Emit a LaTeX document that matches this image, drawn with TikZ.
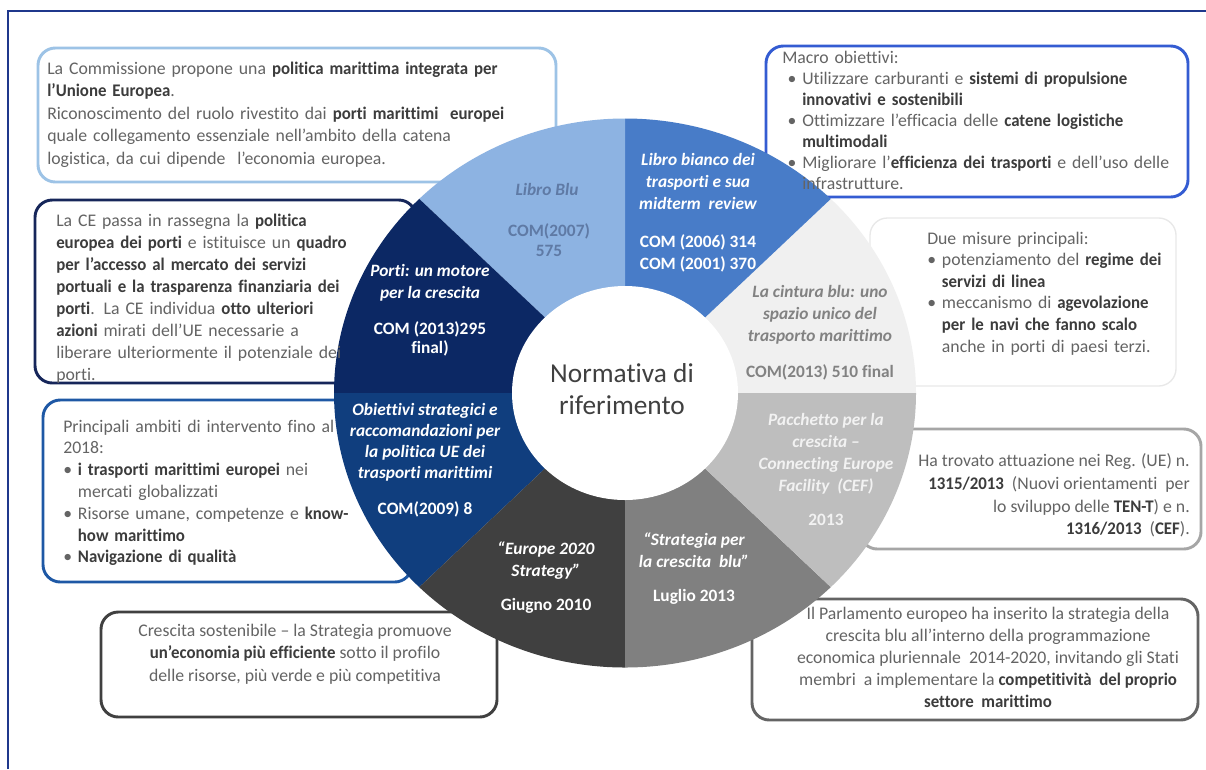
\documentclass[tikz,border=0pt]{standalone}
\usepackage{fontspec}
\setmainfont{Carlito}[Ligatures={TeX,NoCommon}]
\newfontfamily\bnarrow{Carlito}[Ligatures={TeX,NoCommon}, FakeStretch=0.95]
\definecolor{frameblue}{RGB}{31,56,140}
\definecolor{bA}{RGB}{157,195,230}
\definecolor{bB}{RGB}{52,92,210}
\definecolor{bC}{RGB}{22,38,90}
\definecolor{bD}{RGB}{30,88,165}
\definecolor{bE}{RGB}{64,64,64}
\definecolor{bF}{RGB}{100,100,100}
\definecolor{bG}{RGB}{166,166,166}
\definecolor{bH}{RGB}{232,232,232}
\definecolor{sLB}{RGB}{141,179,226}
\definecolor{sBi}{RGB}{72,124,200}
\definecolor{sCi}{RGB}{240,240,240}
\definecolor{sPa}{RGB}{190,190,190}
\definecolor{sSt}{RGB}{128,128,128}
\definecolor{sEu}{RGB}{64,64,64}
\definecolor{sOb}{RGB}{16,62,126}
\definecolor{sPo}{RGB}{12,40,100}
\definecolor{txt}{RGB}{100,100,100}
\definecolor{txtb}{RGB}{60,60,60}
\definecolor{tLB}{RGB}{95,122,165}
\definecolor{tCi}{RGB}{130,130,130}
\definecolor{tPa}{RGB}{242,242,242}
\definecolor{tNo}{RGB}{64,64,64}
\newcommand{\B}[1]{{\bnarrow\bfseries\color{txtb}#1}}
\newcommand{\itm}[2][15pt]{\par\hangindent=#1\hangafter=1\noindent\hbox to #1{\hspace{\dimexpr#1-11pt\relax}\textbullet\hfil}#2\par}
\def\RX{218.25pt}
\def\RY{205.875pt}
\tikzset{
  boxframe/.style={line width=2.2pt, rounded corners=13pt, fill=white},
  boxtext/.style={inner sep=0pt, text=txt, font=\fontsize{13.3}{16.5}\selectfont, text width=430pt, align=left, anchor=north west},
  boxctext/.style={inner sep=0pt, text=txt, font=\fontsize{13.3}{16.5}\selectfont, align=center, anchor=north},
  boxrtext/.style={inner sep=0pt, text=txt, font=\fontsize{13.3}{17}\selectfont, align=right, anchor=north east},
  sectitle/.style={inner sep=0pt, align=center, anchor=north, font=\fontsize{13}{16.5}\selectfont\bfseries\itshape, text=white},
  seccode/.style={inner sep=0pt, align=center, anchor=north, font=\fontsize{13}{16.5}\selectfont\bfseries, text=white},
}
\newcommand{\sector}[3]{\fill[#1] (C) -- ++(#2:\RX\space and \RY) arc[start angle=#2, end angle=#3, x radius=\RX, y radius=\RY] -- cycle;}
\begin{document}
\begin{tikzpicture}[x=0.75pt,y=-0.75pt]
\useasboundingbox (0,0) rectangle (1206,769);
\fill[white] (0,0) rectangle (1206,769);
\coordinate (C) at (625,393);
\coordinate (F1) at (8,769);
\coordinate (F2) at (8,11);
\coordinate (F3) at (1206,11);
\draw[frameblue, line width=1.6pt] (F1) -- (F2) -- (F3);

% boxes
\draw[boxframe, draw=bA] (38,48) rectangle (556,182);
\draw[boxframe, draw=bB] (766,46) rectangle (1188,197);
\draw[boxframe, draw=bH, line width=1pt] (870,218) rectangle (1176,386);
\draw[boxframe, draw=bC] (35,200) rectangle (416,383);
\draw[boxframe, draw=bD] (43,400) rectangle (412,582);
\draw[boxframe, draw=bG] (860,429) rectangle (1201,549);
\draw[boxframe, draw=bE] (101,612) rectangle (497,717);
\draw[boxframe, draw=bF] (752,599) rectangle (1198,720);

% ring
\sector{sCi}{0}{45}
\sector{sBi}{45}{90}
\sector{sLB}{90}{135}
\sector{sPo}{135}{180}
\sector{sOb}{180}{225}
\sector{sEu}{225}{270}
\sector{sSt}{270}{315}
\sector{sPa}{315}{360}
\fill[white] (C) ellipse[x radius=84.75pt, y radius=80.25pt];

% centre
\node[inner sep=0pt, align=center, anchor=north, text=tNo, font=\fontsize{20.5}{24}\selectfont] (centre) at (622,363) {Normativa di\\riferimento};

% sector texts
\node[sectitle, text=tLB] (tLB) at (547,183.5) {Libro Blu};
\node[seccode, text=tLB, font=\fontsize{13}{15}\selectfont\bfseries] (cLB) at (549,223.5) {COM(2007)\\575};
\node[sectitle] (tBi) at (698,153.5) {Libro bianco dei\\trasporti e sua\\midterm\ \ review};
\node[seccode] (cBi) at (698,234.5) {COM (2006) 314\\COM (2001) 370};
\node[sectitle, text=tCi] (tCi) at (820,285.5) {La cintura blu: uno\\spazio unico del\\trasporto marittimo};
\node[seccode, text=tCi] (cCi) at (820,364.5) {COM(2013) 510 final};
\node[sectitle, text=tPa] (tPa) at (826,413.5) {Pacchetto per la\\crescita –\\Connecting Europe\\Facility\ \ (CEF)};
\node[seccode, text=tPa] (cPa) at (826,513.5) {2013};
\node[sectitle] (tSt) at (694,532.5) {“Strategia per\\la crescita\ \ blu"};
\node[seccode] (cSt) at (694,589.5) {Luglio 2013};
\node[sectitle] (tEu) at (546,541.5) {“Europe 2020\\Strategy”};
\node[seccode] (cEu) at (546,598.5) {Giugno 2010};
\node[sectitle, font=\fontsize{13}{15.75}\selectfont\bfseries\itshape] (tOb) at (425,403.5) {Obiettivi strategici e\\raccomandazioni per\\la politica UE dei\\trasporti marittimi};
\node[seccode] (cOb) at (425,501.5) {COM(2009) 8};
\node[sectitle] (tPo) at (430,264.5) {Porti: un motore\\per la crescita};
\node[seccode, font=\fontsize{13}{14.25}\selectfont\bfseries] (cPo) at (430,321.5) {COM (2013)295\\final)};

% box texts
\node[boxtext, font=\fontsize{13.3}{16.9}\selectfont] (xA) at (47,61.5) {La Commissione propone una \B{politica marittima integrata per}\\
\B{l’Unione Europea}.\\
Riconoscimento del ruolo rivestito dai \B{porti marittimi\ \ europei}\\
quale collegamento essenziale nell'ambito della catena\\
logistica, da cui dipende\ \ l’economia europea.};

\node[boxtext, font=\fontsize{13.3}{15.75}\selectfont] (xB) at (782,50.5) {Macro obiettivi:
\itm{Utilizzare carburanti e \B{sistemi di propulsione}\newline\B{innovativi e sostenibili}}
\itm{Ottimizzare l'efficacia delle \B{catene logistiche}\newline\B{multimodali}}
\itm{Migliorare l'\B{efficienza dei trasporti} e dell'uso delle\newline infrastrutture.}};

\node[boxtext] (xC) at (56,213.5) {La CE passa in rassegna la \B{politica}\\
\B{europea dei porti} e istituisce un \B{quadro}\\
\B{per l'accesso al mercato dei servizi}\\
\B{portuali e la trasparenza finanziaria dei}\\
\B{porti}. La CE individua \B{otto ulteriori}\\
\B{azioni} mirati dell'UE necessarie a\\
liberare ulteriormente il potenziale dei\\
porti.};

\node[boxtext, font=\fontsize{13.3}{16.35}\selectfont] (xD) at (63,419.5) {Principali ambiti di intervento fino al\\
2018:
\itm[11pt]{\B{i trasporti marittimi europei} nei\newline mercati globalizzati}
\itm[11pt]{Risorse umane, competenze e \B{know-}\newline\B{how marittimo}}
\itm[11pt]{\B{Navigazione di qualità}}};

\node[boxtext, font=\fontsize{13.3}{16.2}\selectfont] (xH) at (927,231.5) {Due misure principali:
\itm[11pt]{potenziamento del \B{regime dei}\newline\B{servizi di linea}}
\itm[11pt]{meccanismo di \B{agevolazione}\newline\B{per le navi che fanno scalo}\newline anche in porti di paesi terzi.}};

\node[boxrtext] (xG) at (1190,453.5) {Ha trovato attuazione nei Reg. (UE) n.\\
\B{1315/2013}\ \ (Nuovi orientamenti\ \ per\\
lo sviluppo delle \B{TEN-T}) e n.\\
\B{1316/2013}\ \ (\B{CEF}).};

\node[boxctext, font=\fontsize{13.3}{16.9}\selectfont] (xE) at (295,623.5) {Crescita sostenibile – la Strategia promuove\\
\B{un’economia più efficiente} sotto il profilo\\
delle risorse, più verde e più competitiva};

\node[boxctext] (xF) at (988,606.5) {Il Parlamento europeo ha inserito la strategia della\\
crescita blu all'interno della programmazione\\
economica pluriennale\ \ 2014-2020, invitando gli Stati\\
membri\ \ a implementare la \B{competitività\ \ del proprio}\\
\B{settore\ \ marittimo}};
\end{tikzpicture}
\end{document}
